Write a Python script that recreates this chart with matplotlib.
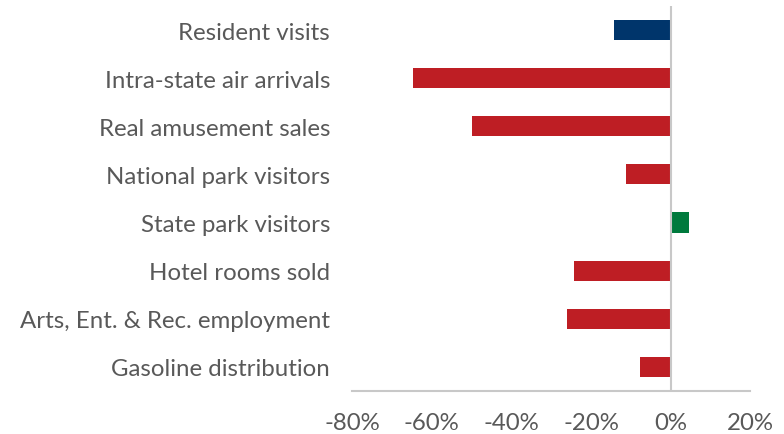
import matplotlib
matplotlib.use("Agg")
import matplotlib.pyplot as plt
from matplotlib.ticker import FuncFormatter

categories = [
    "Resident visits",
    "Intra-state air arrivals",
    "Real amusement sales",
    "National park visitors",
    "State park visitors",
    "Hotel rooms sold",
    "Arts, Ent. & Rec. employment",
    "Gasoline distribution",
]
values = [-14.1, -64.6, -49.9, -11.3, 4.6, -24.2, -25.9, -7.6]
bar_colors = ["#00356B", "#BE1E24", "#BE1E24", "#BE1E24", "#007A3D",
              "#BE1E24", "#BE1E24", "#BE1E24"]
x_ticks = [-80, -60, -40, -20, 0, 20]

plt.rcParams["font.family"] = ["Lato", "DejaVu Sans"]

fig = plt.figure(figsize=(7.84, 4.35), dpi=100)
ax = fig.add_axes([0.449, 0.099, 0.508, 0.885])

ypos = list(range(len(categories)))
ax.barh(ypos, values, height=0.42, color=bar_colors, zorder=2)

ax.set_ylim(len(categories) - 0.5, -0.5)
ax.set_xlim(-80, 20)
ax.set_xticks(x_ticks)
ax.xaxis.set_major_formatter(FuncFormatter(lambda v, p: f"{v:.0f}%"))
ax.set_yticks(ypos)
ax.set_yticklabels(categories)

for s in ["top", "right", "left"]:
    ax.spines[s].set_visible(False)
ax.spines["bottom"].set_color("#C8C8C8")
ax.spines["bottom"].set_linewidth(1.5)
ax.axvline(0, color="#C8C8C8", linewidth=1.5, zorder=3)

ax.tick_params(axis="both", length=0, labelsize=17.3, labelcolor="#595959")
ax.tick_params(axis="y", pad=15.8)
ax.tick_params(axis="x", pad=15)

fig.savefig("out.png", dpi=100)
